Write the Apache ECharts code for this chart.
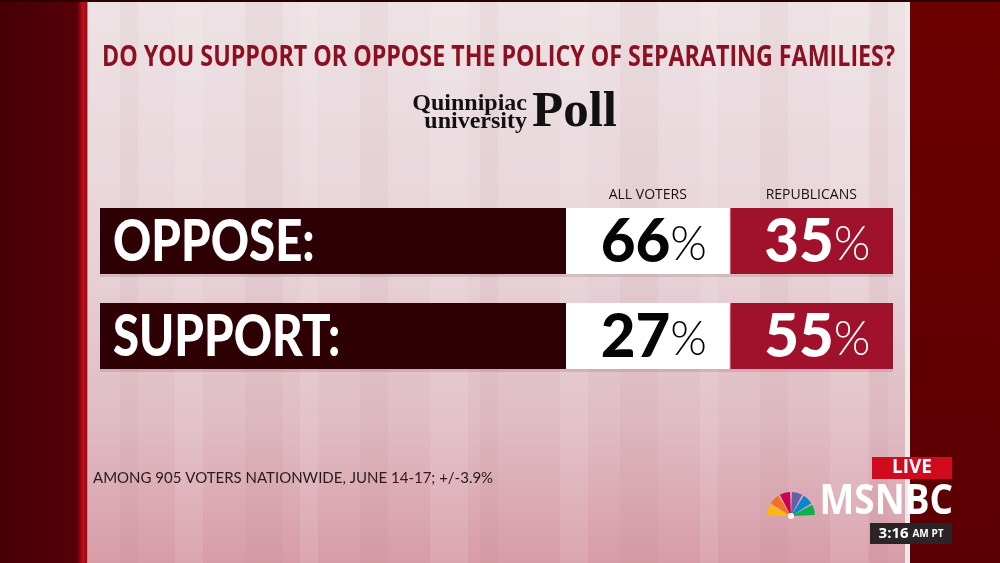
<!DOCTYPE html>
<html>
<head>
<meta charset="utf-8">
<script src="https://cdn.jsdelivr.net/npm/echarts@6/dist/echarts.min.js"></script>
<style>html,body{margin:0;padding:0;}#c{width:1000px;height:563px;}</style>
</head>
<body>
<div id="c"></div>
<script>
const titleText = 'DO YOU SUPPORT OR OPPOSE THE POLICY OF SEPARATING FAMILIES?';
const categories = ['OPPOSE:', 'SUPPORT:'];
const groups = ['ALL VOTERS', 'REPUBLICANS'];
const allVoters = [66, 27];
const republicans = [35, 55];
const footnote = 'AMONG 905 VOTERS NATIONWIDE, JUNE 14-17; +/-3.9%';

const chart = echarts.init(document.getElementById('c'), null, {renderer: 'canvas'});

const cellData = [];
categories.forEach((c, i) => {
  cellData.push([0, i, allVoters[i]]);
  cellData.push([1, i, republicans[i]]);
});

const BAR_RATIO = 0.695;
const HEAVY = 'Lato, "Open Sans", sans-serif';

// measure title to fit the reference width
const TITLE_FONT = 'bold 28px "Open Sans", sans-serif';
const mctx = document.createElement('canvas').getContext('2d');
mctx.font = TITLE_FONT;
const titleScale = 793 / mctx.measureText(titleText).width;

function renderLabel(params, api) {
  const row = api.value(1);
  const c = api.coord([0, row]);
  const cs = params.coordSys;
  const bh = api.size([0, 1])[1] * BAR_RATIO;
  return {
    type: 'group',
    children: [
      {type: 'rect', shape: {x: cs.x, y: c[1] - bh / 2 + 3, width: cs.width + 327, height: bh}, style: {fill: 'rgba(120,60,70,0.16)'}},
      {type: 'rect', shape: {x: cs.x, y: c[1] - bh / 2, width: cs.width, height: bh}, style: {fill: '#2e0205'}},
      {type: 'text', x: cs.x + 13, y: c[1] + 2, scaleX: 0.83,
        style: {text: categories[row], x: 0, y: 0, align: 'left', verticalAlign: 'middle',
        fill: '#ffffff', font: '900 57px ' + HEAVY}}
    ]
  };
}

function renderCell(params, api) {
  const col = api.value(0), row = api.value(1), v = api.value(2);
  const c = api.coord([col, row]);
  const w = api.size([1, 0])[0];
  const bh = api.size([0, 1])[1] * BAR_RATIO;
  const isRep = col === 1;
  const fg = isRep ? '#ffffff' : '#050505';
  return {
    type: 'group',
    children: [
      {type: 'rect', shape: {x: c[0] - w / 2 + (isRep ? 1 : 0), y: c[1] - bh / 2, width: w - (isRep ? 1 : 0), height: bh},
        style: {fill: isRep ? '#a0112b' : '#ffffff'}},
      {type: 'text', style: {
        text: '{n|' + v + '}{p|%}', x: c[0] + 6, y: c[1] + 2, align: 'center', verticalAlign: 'middle',
        rich: {
          n: {fontFamily: HEAVY, fontWeight: 900, fontSize: 60, fill: fg, color: fg},
          p: {fontFamily: HEAVY, fontWeight: 300, fontSize: 47, fill: fg, color: fg, padding: [4, 0, 0, 0]}
        }
      }}
    ]
  };
}

// background stripes
const stripes = [];
const stripeXs = [120, 175, 245, 300, 360, 430, 480, 560, 620, 700, 760, 830, 870];
stripeXs.forEach((x, i) => {
  stripes.push({type: 'rect', silent: true, z: -9,
    shape: {x: x, y: 0, width: 18 + (i % 3) * 10, height: 563},
    style: {fill: i % 2 ? 'rgba(255,255,255,0.10)' : 'rgba(150,90,100,0.05)'}});
});

// NBC peacock
const peacockColors = ['#fcb711', '#f37021', '#cc004c', '#6460aa', '#0089d0', '#0db14b'];
const peacock = peacockColors.map((col, i) => {
  const span = Math.PI / 6;
  const s = Math.PI + i * span + 0.04;
  return {type: 'sector', z: 5, shape: {cx: 791, cy: 516, r0: 3, r: 24, startAngle: s, endAngle: s + span - 0.08, clockwise: true},
    style: {fill: col}};
});

chart.setOption({
  animation: false,
  backgroundColor: '#e6d2d6',
  grid: [
    {left: 100, width: 466, top: 193.5, height: 190},
    {left: 566, width: 327, top: 193.5, height: 190}
  ],
  xAxis: [
    {gridIndex: 0, type: 'value', min: 0, max: 1, show: false},
    {gridIndex: 1, type: 'category', data: groups, position: 'top',
      axisLine: {show: false}, axisTick: {show: false}, splitLine: {show: false},
      axisLabel: {margin: -9, fontFamily: '"Open Sans", sans-serif', fontSize: 14, color: '#1a1010'}}
  ],
  yAxis: [
    {gridIndex: 0, type: 'category', data: categories, inverse: true, show: false},
    {gridIndex: 1, type: 'category', data: categories, inverse: true, show: false}
  ],
  graphic: [
    {type: 'rect', silent: true, z: -10, shape: {x: 88, y: 0, width: 820, height: 563},
      style: {fill: new echarts.graphic.LinearGradient(0, 0, 0, 1, [
        {offset: 0, color: '#ede2e5'}, {offset: 0.45, color: '#e7d3d8'}, {offset: 0.75, color: '#e0bcc4'}, {offset: 1, color: '#d89ca8'}])}},
    ...stripes,
    // title
    {type: 'text', z: 3, x: 498.5, y: 58, scaleX: titleScale,
      style: {text: titleText, x: 0, y: 0, align: 'center', verticalAlign: 'middle', font: TITLE_FONT, fill: '#8c0f22'}},
    // left panel
    {type: 'rect', silent: true, z: 1, shape: {x: 0, y: 0, width: 80, height: 563},
      style: {fill: new echarts.graphic.LinearGradient(0, 0, 1, 0, [
        {offset: 0, color: '#460005'}, {offset: 1, color: '#560008'}])}},
    {type: 'rect', silent: true, z: 1, shape: {x: 78, y: 0, width: 10, height: 563},
      style: {fill: new echarts.graphic.LinearGradient(0, 0, 1, 0, [
        {offset: 0, color: '#6a0008'}, {offset: 0.5, color: '#c0101c'}, {offset: 0.85, color: '#a00814'}, {offset: 1, color: '#e8c8cc'}])}},
    // right panel
    {type: 'rect', silent: true, z: 1, shape: {x: 905, y: 0, width: 5, height: 563}, style: {fill: '#f2e8ea'}},
    {type: 'rect', silent: true, z: 1, shape: {x: 910, y: 0, width: 90, height: 563},
      style: {fill: new echarts.graphic.LinearGradient(0, 0, 0, 1, [
        {offset: 0, color: '#6c0000'}, {offset: 1, color: '#5a0004'}])}},
    {type: 'rect', silent: true, z: 1, shape: {x: 0, y: 0, width: 1000, height: 2}, style: {fill: '#2a0000'}},
    // Quinnipiac Poll logo
    {type: 'text', z: 3, style: {text: 'Quinnipiac', x: 527, y: 104, align: 'right', verticalAlign: 'middle',
      font: 'bold 24px "Liberation Serif", "DejaVu Serif", serif', fill: '#111'}},
    {type: 'text', z: 3, style: {text: 'university', x: 527, y: 122, align: 'right', verticalAlign: 'middle',
      font: 'bold 24px "Liberation Serif", "DejaVu Serif", serif', fill: '#111'}},
    {type: 'text', z: 3, style: {text: 'Poll', x: 532, y: 113, align: 'left', verticalAlign: 'middle',
      font: 'bold 51px "Liberation Serif", "DejaVu Serif", serif', fill: '#111'}},
    // footnote
    {type: 'text', z: 3, style: {text: footnote, x: 93, y: 478, align: 'left', verticalAlign: 'middle',
      font: '15px Lato, "Open Sans", sans-serif', fill: '#2a1a1c'}},
    // MSNBC bug
    {type: 'rect', z: 4, shape: {x: 872, y: 457, width: 80, height: 22}, style: {fill: '#d10a1e'}},
    {type: 'text', z: 5, style: {text: 'LIVE', x: 912, y: 468, align: 'center', verticalAlign: 'middle',
      font: 'bold 19px "Open Sans", Lato, sans-serif', fill: '#ffffff'}},
    ...peacock,
    {type: 'circle', z: 6, shape: {cx: 791, cy: 516, r: 3}, style: {fill: '#ffffff'}},
    {type: 'text', z: 5, x: 953, y: 502, scaleX: 0.9,
      style: {text: 'MSNBC', x: 0, y: 0, align: 'right', verticalAlign: 'middle',
      font: 'bold 41px "Open Sans", Lato, sans-serif', fill: '#ffffff'}},
    {type: 'rect', z: 4, shape: {x: 870, y: 523, width: 82, height: 21}, style: {fill: '#2b2426'}},
    {type: 'text', z: 5, style: {text: '{a|3:16 }{b|AM PT}', x: 911, y: 534, align: 'center', verticalAlign: 'middle',
      rich: {a: {fontFamily: '"Open Sans", sans-serif', fontWeight: 'bold', fontSize: 15, fill: '#fff', color: '#fff'},
             b: {fontFamily: '"Open Sans", sans-serif', fontWeight: 'bold', fontSize: 10, fill: '#fff', color: '#fff'}}}}
  ],
  series: [
    {type: 'custom', xAxisIndex: 0, yAxisIndex: 0, renderItem: renderLabel, data: categories.map((c, i) => [0, i]), z: 3},
    {type: 'custom', xAxisIndex: 1, yAxisIndex: 1, renderItem: renderCell, data: cellData, z: 3}
  ]
});
</script>
</body>
</html>
